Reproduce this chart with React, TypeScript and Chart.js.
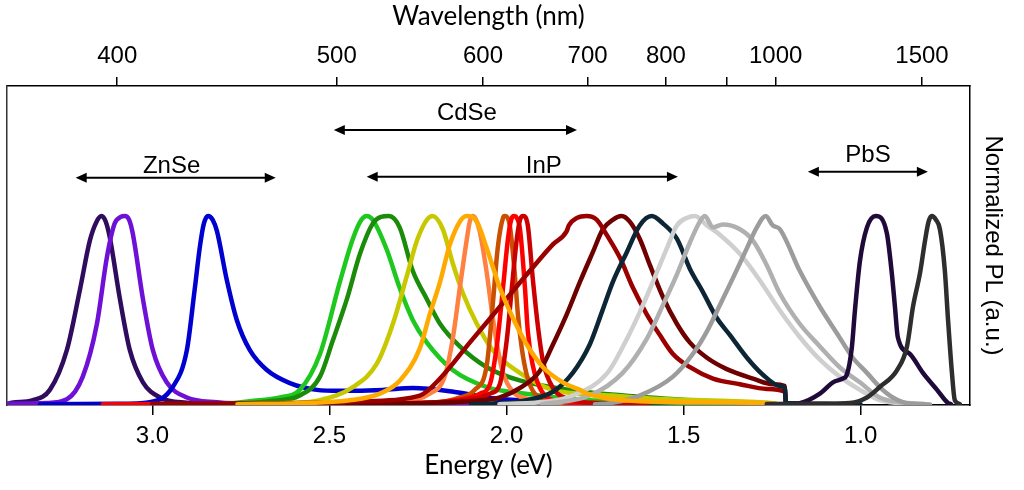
import React, { useEffect, useRef } from 'react';
import { Chart, registerables } from 'chart.js';

Chart.register(...registerables);

// ---- axes ----
const energyMin = 0.691;
const energyMax = 3.411;
const plMax = 1.688;
const energyTicks = [3.0, 2.5, 2.0, 1.5, 1.0];
const wavelengthTicks = [400, 500, 600, 700, 800, 900, 1000, 1500];
const wavelengthLabels = ['400', '500', '600', '700', '800', '', '1000', '1500'];

// ---- spectra: [energy (eV), normalized PL] ----
const znseA = [[3.41,0.005],[3.397,0.012],[3.34,0.025],[3.29,0.08],[3.242,0.29],[3.205,0.61],[3.177,0.87],[3.158,0.97],[3.144,1],[3.132,0.97],[3.121,0.89],[3.092,0.56],[3.064,0.29],[3.027,0.12],[2.979,0.04],[2.903,0.012],[2.8,0.005],[2.6,0.003]];
const znseB = [[3.411,0.006],[3.3,0.01],[3.242,0.03],[3.197,0.15],[3.157,0.43],[3.129,0.78],[3.107,0.96],[3.09,0.995],[3.078,1],[3.066,0.98],[3.056,0.91],[3.027,0.56],[2.999,0.29],[2.96,0.12],[2.903,0.04],[2.818,0.015],[2.7,0.006],[2.4,0.004],[2.0,0.002]];
const znseC = [[3.318,0.004],[3.1,0.006],[3.008,0.015],[2.943,0.095],[2.903,0.29],[2.881,0.61],[2.866,0.84],[2.855,0.96],[2.843,1],[2.83,0.98],[2.818,0.92],[2.79,0.66],[2.762,0.45],[2.725,0.29],[2.677,0.185],[2.612,0.116],[2.536,0.08],[2.471,0.075],[2.35,0.08],[2.265,0.09],[2.15,0.07],[2.056,0.04],[1.935,0.02],[1.85,0.006],[1.62,0.003]];
const cdseGreen = [[2.8,0.005],[2.725,0.02],[2.64,0.04],[2.584,0.08],[2.527,0.27],[2.471,0.65],[2.434,0.88],[2.41,0.98],[2.395,1],[2.378,0.98],[2.338,0.82],[2.302,0.62],[2.265,0.45],[2.225,0.33],[2.152,0.185],[2.056,0.095],[1.963,0.063],[1.774,0.026],[1.455,0.01],[1.3,0.005]];
const cdseDarkGreen = [[2.8,0.005],[2.668,0.02],[2.584,0.05],[2.527,0.15],[2.491,0.34],[2.451,0.56],[2.414,0.8],[2.378,0.96],[2.355,0.995],[2.332,1],[2.302,0.94],[2.265,0.71],[2.225,0.56],[2.188,0.43],[2.132,0.31],[2.056,0.2],[1.963,0.13],[1.822,0.08],[1.596,0.04],[1.314,0.01],[1.25,0.005]];
const cdseYellow = [[2.75,0.005],[2.6,0.012],[2.527,0.026],[2.434,0.095],[2.366,0.22],[2.321,0.43],[2.282,0.68],[2.253,0.87],[2.225,0.98],[2.209,1],[2.18,0.93],[2.152,0.75],[2.123,0.59],[2.084,0.43],[2.039,0.29],[1.963,0.17],[1.869,0.08],[1.7,0.05],[1.595,0.035],[1.284,0.015],[1.24,0.008]];
const cdseOrange = [[2.76,0.004],[2.55,0.012],[2.443,0.025],[2.358,0.06],[2.301,0.13],[2.245,0.3],[2.217,0.48],[2.188,0.65],[2.16,0.85],[2.132,0.97],[2.113,1],[2.084,0.97],[2.056,0.83],[2.019,0.62],[1.982,0.46],[1.943,0.32],[1.897,0.2],[1.841,0.12],[1.793,0.08],[1.765,0.055],[1.624,0.02],[1.265,0.01],[1.24,0.005]];
const cdseSalmon = [[2.4,0.005],[2.301,0.02],[2.217,0.06],[2.175,0.15],[2.152,0.35],[2.132,0.62],[2.112,0.88],[2.104,0.97],[2.096,1],[2.086,0.98],[2.076,0.92],[2.056,0.7],[2.041,0.49],[2.027,0.32],[2.01,0.17],[1.982,0.07],[1.934,0.03],[1.85,0.01],[1.7,0.004]];
const cdseDarkOrange = [[2.4,0.004],[2.188,0.015],[2.132,0.04],[2.09,0.08],[2.056,0.21],[2.039,0.53],[2.025,0.83],[2.01,0.99],[2.005,1],[1.991,0.95],[1.977,0.7],[1.968,0.48],[1.957,0.3],[1.943,0.16],[1.92,0.06],[1.878,0.03],[1.821,0.01],[1.7,0.004]];
const cdseRed = [[3.14,0.004],[2.5,0.006],[2.2,0.015],[2.104,0.04],[2.075,0.06],[2.047,0.11],[2.027,0.32],[2.01,0.62],[1.996,0.88],[1.987,0.98],[1.979,1],[1.971,0.99],[1.962,0.93],[1.948,0.62],[1.94,0.39],[1.926,0.21],[1.9,0.07],[1.85,0.02],[1.75,0.006],[1.65,0.003]];
const cdseDarkRed = [[2.3,0.005],[2.104,0.03],[2.047,0.06],[2.019,0.11],[1.999,0.35],[1.985,0.62],[1.971,0.88],[1.962,0.98],[1.953,1],[1.94,0.95],[1.926,0.67],[1.911,0.41],[1.897,0.23],[1.869,0.09],[1.821,0.03],[1.736,0.01],[1.6,0.004]];
const inpMaroon = [[3.0,0.006],[2.584,0.01],[2.4,0.02],[2.245,0.05],[2.188,0.14],[2.104,0.33],[2.019,0.52],[1.934,0.71],[1.869,0.85],[1.83,0.92],[1.824,0.95],[1.801,0.99],[1.774,1],[1.745,0.98],[1.717,0.9],[1.68,0.78],[1.643,0.62],[1.604,0.48],[1.567,0.37],[1.53,0.27],[1.482,0.2],[1.417,0.14],[1.341,0.11],[1.265,0.085],[1.214,0.07],[1.211,0.01]];
const inpDarkMaroon = [[3.0,0.005],[2.4,0.008],[2.104,0.02],[2.019,0.04],[1.962,0.09],[1.906,0.18],[1.869,0.32],[1.83,0.48],[1.793,0.65],[1.756,0.81],[1.728,0.93],[1.7,0.98],[1.675,1],[1.652,0.97],[1.624,0.88],[1.595,0.74],[1.558,0.57],[1.519,0.43],[1.482,0.33],[1.434,0.25],[1.378,0.19],[1.304,0.14],[1.248,0.11],[1.214,0.1],[1.211,0.01]];
const inpNavy = [[2.1,0.004],[2.019,0.01],[1.962,0.02],[1.869,0.07],[1.813,0.17],[1.765,0.32],[1.731,0.49],[1.7,0.65],[1.66,0.81],[1.624,0.95],[1.59,1],[1.558,0.96],[1.519,0.88],[1.482,0.72],[1.446,0.6],[1.406,0.46],[1.369,0.37],[1.321,0.25],[1.276,0.16],[1.228,0.1],[1.214,0.09],[1.211,0.01],[1.1,0.006],[1.0,0.004]];
const inpLightGray = [[2.02,0.004],[1.878,0.02],[1.813,0.05],[1.715,0.17],[1.66,0.35],[1.624,0.49],[1.587,0.65],[1.547,0.83],[1.519,0.95],[1.491,0.99],[1.468,1],[1.434,0.95],[1.397,0.9],[1.341,0.8],[1.285,0.66],[1.228,0.5],[1.172,0.36],[1.115,0.24],[1.059,0.15],[1.002,0.08],[0.946,0.026],[0.86,0.005]];
const inpGray = [[1.9,0.004],[1.765,0.05],[1.672,0.17],[1.604,0.35],[1.558,0.53],[1.519,0.69],[1.482,0.86],[1.454,0.97],[1.44,1],[1.417,0.94],[1.389,0.955],[1.341,0.93],[1.304,0.87],[1.265,0.74],[1.228,0.59],[1.172,0.43],[1.115,0.31],[1.059,0.2],[1.002,0.12],[0.946,0.04],[0.889,0.015],[0.82,0.005]];
const inpMidGray = [[1.75,0.004],[1.708,0.01],[1.624,0.05],[1.53,0.15],[1.474,0.27],[1.434,0.39],[1.397,0.53],[1.361,0.67],[1.321,0.83],[1.293,0.94],[1.268,1],[1.248,0.95],[1.228,0.93],[1.172,0.71],[1.115,0.52],[1.067,0.38],[1.022,0.25],[0.982,0.17],[0.946,0.095],[0.909,0.04],[0.869,0.01],[0.804,0.003]];
const pbsA = [[1.214,0.005],[1.172,0.01],[1.115,0.06],[1.078,0.12],[1.05,0.14],[1.039,0.16],[1.025,0.3],[1.016,0.5],[1.002,0.76],[0.982,0.94],[0.957,1],[0.926,0.91],[0.912,0.7],[0.903,0.52],[0.895,0.36],[0.861,0.27],[0.824,0.17],[0.784,0.08],[0.753,0.01],[0.745,0.005]];
const pbsB = [[1.265,0.005],[1.1,0.006],[1.03,0.01],[0.982,0.04],[0.946,0.095],[0.897,0.185],[0.869,0.31],[0.852,0.52],[0.832,0.7],[0.818,0.87],[0.808,0.97],[0.799,1],[0.787,0.98],[0.776,0.93],[0.762,0.71],[0.753,0.45],[0.742,0.17],[0.734,0.026],[0.72,0.005]];

// ---- annotations (material ranges) ----
const rangeLabels = ['ZnSe', 'CdSe', 'InP', 'PbS'];
const rangeFrom = [3.217, 2.488, 2.395, 1.149];
const rangeTo = [2.652, 1.801, 1.516, 0.81];
const rangeLevel = [1.203, 1.455, 1.208, 1.234];
const rangeLabelEnergy = [2.946, 2.112, 1.895, 0.979];
const rangeLabelLevel = [1.228, 1.508, 1.228, 1.286];

// draw order: first = bottom, last = top
const curves = [
  { data: znseA, color: '#2f0c5e' },
  { data: znseB, color: '#6e10d6' },
  { data: znseC, color: '#0000d0' },
  { data: cdseGreen, color: '#1ec81e' },
  { data: cdseDarkGreen, color: '#1a8c0a' },
  { data: cdseYellow, color: '#c8c800' },
  { data: cdseSalmon, color: '#ff8040' },
  { data: cdseDarkOrange, color: '#c85000' },
  { data: cdseRed, color: '#ff0000' },
  { data: cdseDarkRed, color: '#cc0000' },
  { data: inpDarkMaroon, color: '#6e0000' },
  { data: inpMaroon, color: '#9a0000' },
  { data: inpNavy, color: '#0c2636' },
  { data: inpLightGray, color: '#cfcfcf' },
  { data: inpGray, color: '#b0b0b0' },
  { data: inpMidGray, color: '#9c9c9c' },
  { data: cdseOrange, color: '#ffaa00' },
  { data: pbsA, color: '#1f0a3a' },
  { data: pbsB, color: '#2e2e2e' },
];

const arrowPlugin = {
  id: 'rangeArrows',
  afterDatasetsDraw(chart: any) {
    const { ctx } = chart;
    const xs = chart.scales.x;
    const ys = chart.scales.y;
    ctx.save();
    ctx.strokeStyle = '#000';
    ctx.fillStyle = '#000';
    ctx.lineWidth = 2;
    ctx.font = '24px "Liberation Sans", Arial, sans-serif';
    ctx.textAlign = 'center';
    ctx.textBaseline = 'alphabetic';
    const head = 11;
    const half = 5;
    rangeLabels.forEach((label, i) => {
      const a = xs.getPixelForValue(rangeFrom[i]);
      const b = xs.getPixelForValue(rangeTo[i]);
      const l = Math.min(a, b);
      const r = Math.max(a, b);
      const yy = ys.getPixelForValue(rangeLevel[i]);
      ctx.beginPath();
      ctx.moveTo(l + head - 1, yy);
      ctx.lineTo(r - head + 1, yy);
      ctx.stroke();
      ctx.beginPath();
      ctx.moveTo(l, yy);
      ctx.lineTo(l + head, yy - half);
      ctx.lineTo(l + head, yy + half);
      ctx.closePath();
      ctx.fill();
      ctx.beginPath();
      ctx.moveTo(r, yy);
      ctx.lineTo(r - head, yy - half);
      ctx.lineTo(r - head, yy + half);
      ctx.closePath();
      ctx.fill();
      ctx.fillText(label, xs.getPixelForValue(rangeLabelEnergy[i]), ys.getPixelForValue(rangeLabelLevel[i]));
    });
    ctx.restore();
  },
};

export default function App() {
  const ref = useRef<HTMLCanvasElement>(null);

  useEffect(() => {
    if (!ref.current) return;
    const n = curves.length;
    const datasets = curves.map((c, i) => ({
      data: c.data.map(([e, v]) => ({ x: e, y: v })),
      borderColor: c.color,
      backgroundColor: c.color,
      borderWidth: 4.5,
      pointRadius: 0,
      fill: false,
      cubicInterpolationMode: 'monotone' as const,
      borderJoinStyle: 'round' as const,
      borderCapStyle: 'round' as const,
      order: n - i,
    }));
    const tickFont = { family: '"Liberation Sans", Arial, sans-serif', size: 24 };
    const titleFont = { family: 'Lato, "Open Sans", sans-serif', size: 26 };
    const chart = new Chart(ref.current, {
      type: 'line',
      data: { datasets },
      options: {
        animation: false,
        responsive: false,
        devicePixelRatio: 1,
        parsing: true,
        layout: { padding: 0 },
        plugins: { legend: { display: false }, tooltip: { enabled: false } },
        scales: {
          x: {
            type: 'linear',
            position: 'bottom',
            min: energyMin,
            max: energyMax,
            reverse: true,
            afterBuildTicks: (s: any) => { s.ticks = energyTicks.map((v) => ({ value: v })); },
            afterFit: (s: any) => { s.height = 85; },
            ticks: { font: tickFont, color: '#000', padding: 7, autoSkip: false, maxRotation: 0, callback: (v: any) => Number(v).toFixed(1) },
            grid: { display: true, drawOnChartArea: false, drawTicks: true, tickLength: 10, color: '#000', lineWidth: 1.5 },
            border: { display: true, color: '#000', width: 1.5 },
            title: { display: true, text: 'Energy (eV)', font: titleFont, color: '#000', padding: { top: 0, bottom: 9 } },
          },
          x2: {
            type: 'linear',
            position: 'top',
            min: energyMin,
            max: energyMax,
            reverse: true,
            afterBuildTicks: (s: any) => { s.ticks = wavelengthTicks.map((w) => ({ value: 1239.84 / w })); },
            afterFit: (s: any) => { s.height = 86; },
            ticks: { font: tickFont, color: '#000', padding: 6, autoSkip: false, maxRotation: 0, callback: (_v: any, i: number) => wavelengthLabels[i] },
            grid: { display: true, drawOnChartArea: false, drawTicks: true, tickLength: 9, color: '#000', lineWidth: 1.5 },
            border: { display: true, color: '#000', width: 1.5 },
            title: { display: true, text: 'Wavelength (nm)', font: titleFont, color: '#000', padding: { top: 1, bottom: 0 } },
          },
          y: {
            type: 'linear',
            position: 'left',
            min: 0,
            max: plMax,
            afterFit: (s: any) => { s.width = 7; },
            ticks: { display: false },
            grid: { display: false },
            border: { display: true, color: '#333', width: 1.5 },
          },
          y2: {
            type: 'linear',
            position: 'right',
            min: 0,
            max: plMax,
            afterFit: (s: any) => { s.width = 54; },
            ticks: { display: false },
            grid: { display: false },
            border: { display: true, color: '#000', width: 1.5 },
            title: { display: true, text: 'Normalized PL (a.u.)', font: tickFont, color: '#000', padding: { top: 17, bottom: 0 } },
          },
        },
      },
      plugins: [arrowPlugin],
    } as any);
    return () => chart.destroy();
  }, []);

  return (
    <div style={{ position: 'fixed', left: 0, top: 0, width: 1024, height: 490, background: '#fff' }}>
      <canvas ref={ref} width={1024} height={490} style={{ display: 'block' }} />
    </div>
  );
}
